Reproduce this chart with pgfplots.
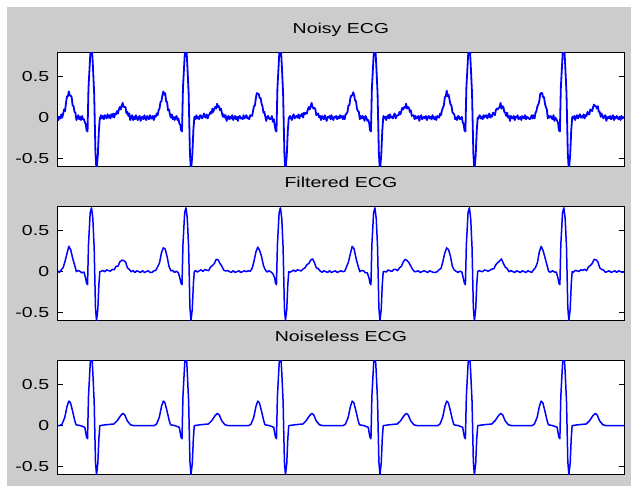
\documentclass[border=0pt]{standalone}
\usepackage{fontspec}
\setmainfont{Liberation Sans}[FakeStretch=1.35]
\usepackage{pgfplots}
\pgfplotsset{compat=1.18}
\definecolor{figgray}{RGB}{204,204,204}
\definecolor{ecgblue}{RGB}{0,0,255}
\pgfplotsset{ecg/.style={
  scale only axis, width=566.8bp, height=114.5bp,
  xmin=0, xmax=600, ymin=-0.6, ymax=0.8,
  xtick=\empty, ytick={-0.5,0,0.5}, yticklabels={-0.5,0,0.5},
  tick align=inside, ytick pos=both, yticklabel pos=left,
  major tick length=5bp,
  tick style={black, line width=0.8bp},
  axis line style={black, line width=0.9bp},
  axis background/.style={fill=white},
  yticklabel style={inner sep=0pt, anchor=east, xshift=-8.2bp, font=\fontsize{14.5}{17}\selectfont, text=black},
  title style={at={(0.5,1)}, anchor=base, yshift=13bp, inner sep=0pt, font=\fontsize{14.5}{17}\selectfont, text=black},
}, ecgline/.style={draw=ecgblue, line width=1.5bp, line join=round, line cap=round, no markers}}
\begin{document}
\begin{tikzpicture}[x=1bp,y=1bp]
\fill[white] (0,0) rectangle (631,486);
\fill[figgray] (7,0) rectangle (631,479);
% ---------------- Noisy ----------------
\begin{axis}[ecg, at={(57.5bp,319.3bp)}, anchor=south west, title={Noisy ECG}]
\addplot[ecgline, line width=1.8bp] coordinates {
(0,0.02)(1,-0.03)(2,0.01)(3,-0.01)(4,0.04)(5,0)(6,0.05)(7,0.1)(8,0.08)(9,0.18)(10,0.26)(11,0.26)(12,0.32)(13,0.27)(14,0.27)(15,0.25)(16,0.15)(17,0.14)(18,0.07)(19,0.06)(20,-0.03)(21,0)(22,0.03)(23,-0.02)(24,0.01)(25,-0.03)(26,0.02)(27,-0.02)(28,-0.02)(29,-0.06)(30,-0.08)
(30.7,-0.15)(31.8,-0.17)(32.8,0.36)(34.6,0.75)(36,0.95)(37.4,0.65)(38.8,0.3)(40.2,-0.44)(41.3,-0.65)(42.7,-0.46)(43.8,-0.16)(44.8,0)
(45,-0.02)(46,0.03)(47,-0.01)(48,0.02)(49,-0.02)(50,0.03)(51,0.01)(52,-0.01)(53,0.04)(54,0)(55,0.03)(56,-0.01)(57,0.04)(58,0.01)(59,0.05)(60,0)(61,0.05)(62,0.04)(63,0.08)(64,0.05)(65,0.1)(66,0.13)(67,0.1)(68,0.15)(69,0.18)(70,0.13)(71,0.13)(72,0.13)(73,0.05)(74,0.07)(75,0.02)(76,0.05)(77,-0.03)(78,0.01)(79,0.03)(80,-0.03)(81,0.01)(82,-0.02)(83,0.03)(84,-0.01)(85,-0.03)(86,0.01)(87,0.02)(88,-0.04)(89,0)(90,0.01)(91,-0.02)(92,0.03)(93,-0.01)(94,-0.03)(95,0.02)(96,0)(97,-0.02)(98,0.03)(99,-0.01)
(100,-0.01)(101,0.02)(102,-0.03)(103,0.02)(104,0.01)(105,0.05)(106,0.03)(107,0.09)(108,0.11)(109,0.19)(110,0.2)(111,0.27)(112,0.32)(113,0.28)(114,0.3)(115,0.2)(116,0.19)(117,0.09)(118,0.1)(119,0.04)(120,0)(121,0.04)(122,-0.02)(123,0.01)(124,-0.03)(125,0)(126,0.02)(127,-0.03)(128,-0.01)(129,-0.07)(130,-0.09)
(130.7,-0.15)(131.8,-0.17)(132.8,0.36)(134.6,0.75)(136,0.95)(137.4,0.65)(138.8,0.3)(140.2,-0.44)(141.3,-0.65)(142.7,-0.46)(143.8,-0.16)(144.8,0)
(145,0.01)(146,-0.02)(147,0.03)(148,-0.01)(149,0.01)(150,-0.02)(151,0.03)(152,0.02)(153,-0.01)(154,0.01)(155,0.05)(156,0.01)(157,0)(158,0.04)(159,-0.01)(160,0.03)(161,0.04)(162,0.07)(163,0.05)(164,0.11)(165,0.07)(166,0.11)(167,0.13)(168,0.11)(169,0.17)(170,0.13)(171,0.14)(172,0.09)(173,0.11)(174,0.06)(175,0.01)(176,0.04)(177,0)(178,0.03)(179,-0.04)(180,0)(181,0.02)(182,-0.02)(183,0.01)(184,-0.01)(185,0.03)(186,-0.03)(187,0)(188,0.02)(189,-0.02)(190,0.01)(191,-0.04)(192,0.01)(193,0.02)(194,-0.01)(195,0)(196,-0.02)(197,0.03)(198,-0.01)(199,0.01)
(200,0.03)(201,-0.01)(202,0)(203,-0.02)(204,0.03)(205,0.03)(206,0.02)(207,0.08)(208,0.14)(209,0.15)(210,0.24)(211,0.3)(212,0.29)(213,0.29)(214,0.24)(215,0.24)(216,0.17)(217,0.14)(218,0.06)(219,0.07)(220,0.01)(221,-0.04)(222,0.01)(223,0.02)(224,-0.01)(225,-0.02)(226,-0.01)(227,0.02)(228,-0.05)(229,-0.02)(230,-0.1)
(230.7,-0.15)(231.8,-0.17)(232.8,0.36)(234.6,0.75)(236,0.95)(237.4,0.65)(238.8,0.3)(240.2,-0.44)(241.3,-0.65)(242.7,-0.46)(243.8,-0.16)(244.8,0)
(245,-0.01)(246,0.02)(247,0)(248,-0.03)(249,0.02)(250,0.04)(251,-0.01)(252,0.01)(253,0.02)(254,0)(255,0.04)(256,-0.01)(257,0.03)(258,0.02)(259,0.05)(260,0)(261,0.06)(262,0.04)(263,0.06)(264,0.05)(265,0.1)(266,0.13)(267,0.1)(268,0.14)(269,0.18)(270,0.13)(271,0.11)(272,0.12)(273,0.1)(274,0.03)(275,0.04)(276,0.05)(277,0)(278,0.02)(279,-0.03)(280,0.02)(281,0)(282,-0.02)(283,0.03)(284,-0.01)(285,-0.04)(286,0.01)(287,0)(288,0.02)(289,-0.02)(290,0.03)(291,-0.01)(292,-0.03)(293,0.01)(294,0)(295,0.02)(296,-0.02)(297,0.01)(298,-0.01)(299,0.03)
(300,0)(301,0.02)(302,-0.02)(303,0.02)(304,-0.02)(305,0.04)(306,0.05)(307,0.07)(308,0.15)(309,0.15)(310,0.24)(311,0.27)(312,0.27)(313,0.31)(314,0.28)(315,0.21)(316,0.2)(317,0.11)(318,0.08)(319,0.07)(320,-0.02)(321,0.02)(322,-0.01)(323,0.02)(324,0)(325,-0.04)(326,0.02)(327,0)(328,-0.04)(329,-0.03)(330,-0.07)
(330.7,-0.15)(331.8,-0.17)(332.8,0.36)(334.6,0.75)(336,0.95)(337.4,0.65)(338.8,0.3)(340.2,-0.44)(341.3,-0.65)(342.7,-0.46)(343.8,-0.16)(344.8,0)
(345,0.02)(346,-0.01)(347,0.01)(348,-0.03)(349,0.01)(350,0.03)(351,-0.01)(352,0.04)(353,0)(354,0.01)(355,-0.01)(356,0.03)(357,0.05)(358,-0.01)(359,0.02)(360,0.03)(361,0.03)(362,0.07)(363,0.04)(364,0.08)(365,0.12)(366,0.1)(367,0.13)(368,0.12)(369,0.17)(370,0.11)(371,0.13)(372,0.12)(373,0.07)(374,0.09)(375,0.02)(376,0.03)(377,0.03)(378,-0.02)(379,0.02)(380,-0.01)(381,0)(382,0.02)(383,-0.04)(384,0.01)(385,0.03)(386,-0.02)(387,0)(388,0.01)(389,-0.01)(390,0.02)(391,-0.03)(392,0)(393,0.02)(394,-0.01)(395,0.01)(396,-0.02)(397,0.03)(398,0)(399,-0.02)
(400,0.01)(401,-0.03)(402,0.02)(403,0.01)(404,0)(405,0.05)(406,0.03)(407,0.09)(408,0.12)(409,0.15)(410,0.25)(411,0.26)(412,0.33)(413,0.26)(414,0.28)(415,0.22)(416,0.16)(417,0.15)(418,0.07)(419,0.05)(420,0.04)(421,-0.02)(422,0)(423,-0.03)(424,0.02)(425,0.01)(426,-0.02)(427,-0.01)(428,0.01)(429,-0.06)(430,-0.08)
(430.7,-0.15)(431.8,-0.17)(432.8,0.36)(434.6,0.75)(436,0.95)(437.4,0.65)(438.8,0.3)(440.2,-0.44)(441.3,-0.65)(442.7,-0.46)(443.8,-0.16)(444.8,0)
(445,-0.02)(446,0.01)(447,0.03)(448,-0.01)(449,0.01)(450,-0.02)(451,0.03)(452,0)(453,0.02)(454,0.03)(455,-0.01)(456,0.02)(457,0.05)(458,0)(459,0.03)(460,0.01)(461,0.06)(462,0.05)(463,0.03)(464,0.09)(465,0.11)(466,0.1)(467,0.12)(468,0.12)(469,0.18)(470,0.11)(471,0.14)(472,0.13)(473,0.07)(474,0.06)(475,0.02)(476,0.06)(477,0)(478,0.02)(479,-0.04)(480,0.02)(481,0)(482,-0.01)(483,0.02)(484,-0.03)(485,0.01)(486,0)(487,0.03)(488,-0.02)(489,-0.01)(490,0.01)(491,-0.03)(492,0.02)(493,0)(494,-0.01)(495,0.03)(496,-0.02)(497,0.01)(498,0)(499,-0.01)
(500,-0.02)(501,0)(502,0.03)(503,-0.01)(504,0.03)(505,-0.01)(506,0.06)(507,0.08)(508,0.14)(509,0.16)(510,0.2)(511,0.29)(512,0.3)(513,0.3)(514,0.25)(515,0.25)(516,0.17)(517,0.13)(518,0.1)(519,-0.01)(520,0.02)(521,0)(522,0.02)(523,0)(524,-0.02)(525,0.03)(526,-0.04)(527,0)(528,-0.02)(529,-0.04)(530,-0.07)
(530.7,-0.15)(531.8,-0.17)(532.8,0.36)(534.6,0.75)(536,0.95)(537.4,0.65)(538.8,0.3)(540.2,-0.44)(541.3,-0.65)(542.7,-0.46)(543.8,-0.16)(544.8,0)
(545,0.01)(546,-0.01)(547,0.02)(548,-0.03)(549,0.01)(550,0.03)(551,-0.01)(552,0.02)(553,0.04)(554,0)(555,0.02)(556,0)(557,0.04)(558,-0.01)(559,0.03)(560,0.02)(561,0.07)(562,0.04)(563,0.04)(564,0.1)(565,0.09)(566,0.08)(567,0.13)(568,0.16)(569,0.14)(570,0.14)(571,0.11)(572,0.14)(573,0.07)(574,0.07)(575,0.01)(576,0.05)(577,0.01)(578,-0.01)(579,0.02)(580,0.03)(581,-0.04)(582,0)(583,0.01)(584,-0.01)(585,0.02)(586,-0.02)(587,0)(588,0.03)(589,-0.03)(590,0.01)(591,-0.01)(592,0.02)(593,0)(594,-0.02)(595,0.01)(596,-0.03)(597,0.02)(598,-0.01)(599,0)(600,0.01)
};
\end{axis}
% ---------------- Filtered ----------------
\begin{axis}[ecg, at={(57.5bp,165.3bp)}, anchor=south west, title={Filtered ECG}]
\addplot[ecgline] coordinates {
(0,0.01)(2,-0.01)(4,0.023)(6,0.05)(8,0.127)(10,0.219)(12,0.31)(14,0.267)(16,0.165)(18,0.085)(20,0)(22,0.014)(24,0.001)(26,-0.015)(28,-0.005)(30,-0.09)
(30.7,-0.14)(31.8,-0.16)(32.8,0.33)(34.6,0.72)(36,0.78)(37.4,0.65)(38.8,0.3)(40.2,-0.44)(41.3,-0.6)(42.7,-0.46)(43.8,-0.16)(44.8,0)
(46,0.002)(48,0.015)(50,-0.001)(52,0.021)(54,0.013)(56,0.006)(58,0.028)(60,0.022)(62,0.066)(64,0.065)(66,0.119)(68,0.14)(70,0.135)(72,0.12)(74,0.046)(76,0.027)(78,-0.002)(80,0.012)(82,-0.01)(84,0.01)(86,0)(88,-0.01)(90,0.01)(92,-0.01)(94,0)(96,0.01)(98,-0.01)
(100,-0.01)(102,0.01)(104,0.013)(106,0.06)(108,0.107)(110,0.229)(112,0.29)(114,0.277)(116,0.185)(118,0.065)(120,0.01)(122,0.014)(124,-0.009)(126,0.005)(128,-0.015)(130,-0.1)
(130.7,-0.14)(131.8,-0.16)(132.8,0.33)(134.6,0.72)(136,0.78)(137.4,0.65)(138.8,0.3)(140.2,-0.44)(141.3,-0.6)(142.7,-0.46)(143.8,-0.16)(144.8,0)
(146,0.012)(148,-0.005)(150,0.009)(152,0.021)(154,0.003)(156,0.026)(158,0.018)(160,0.012)(162,0.056)(164,0.075)(166,0.099)(168,0.15)(170,0.145)(172,0.1)(174,0.066)(176,0.017)(178,0.008)(180,0.012)(182,0)(184,-0.01)(186,0.01)(188,-0.01)(190,0)(192,0.01)(194,-0.01)(196,0)(198,0.01)
(200,0)(202,0.01)(204,0.003)(206,0.04)(208,0.127)(210,0.239)(212,0.3)(214,0.257)(216,0.185)(218,0.075)(220,0.02)(222,-0.006)(224,0.011)(226,-0.005)(228,-0.025)(230,-0.08)
(230.7,-0.14)(231.8,-0.16)(232.8,0.33)(234.6,0.72)(236,0.78)(237.4,0.65)(238.8,0.3)(240.2,-0.44)(241.3,-0.6)(242.7,-0.46)(243.8,-0.16)(244.8,0)
(246,-0.008)(248,0.005)(250,0.019)(252,0.001)(254,0.023)(256,0.016)(258,0.008)(260,0.032)(262,0.046)(264,0.085)(266,0.099)(268,0.14)(270,0.155)(272,0.11)(274,0.046)(276,0.037)(278,0.008)(280,-0.008)(282,0.01)(284,0)(286,-0.01)(288,0.01)(290,-0.01)(292,0)(294,0.01)(296,-0.01)(298,0)
(300,0.01)(302,0)(304,0.003)(306,0.06)(308,0.117)(310,0.219)(312,0.31)(314,0.277)(316,0.165)(318,0.075)(320,0)(322,0.014)(324,0.011)(326,-0.015)(328,-0.015)(330,-0.09)
(330.7,-0.14)(331.8,-0.16)(332.8,0.33)(334.6,0.72)(336,0.78)(337.4,0.65)(338.8,0.3)(340.2,-0.44)(341.3,-0.6)(342.7,-0.46)(343.8,-0.16)(344.8,0)
(346,0.002)(348,-0.005)(350,0.019)(352,0.011)(354,0.003)(356,0.026)(358,0.028)(360,0.012)(362,0.046)(364,0.065)(366,0.119)(368,0.15)(370,0.135)(372,0.11)(374,0.066)(376,0.027)(378,-0.002)(380,0.002)(382,0.01)(384,-0.01)(386,0)(388,0.01)(390,0)(392,-0.01)(394,0.01)(396,0)(398,-0.01)
(400,-0.01)(402,0)(404,0.023)(406,0.04)(408,0.127)(410,0.229)(412,0.29)(414,0.267)(416,0.185)(418,0.065)(420,0.02)(422,0.004)(424,-0.009)(426,0.005)(428,-0.005)(430,-0.1)
(430.7,-0.14)(431.8,-0.16)(432.8,0.33)(434.6,0.72)(436,0.78)(437.4,0.65)(438.8,0.3)(440.2,-0.44)(441.3,-0.6)(442.7,-0.46)(443.8,-0.16)(444.8,0)
(446,0.012)(448,0.005)(450,-0.001)(452,0.021)(454,0.013)(456,0.006)(458,0.018)(460,0.032)(462,0.036)(464,0.085)(466,0.109)(468,0.13)(470,0.155)(472,0.1)(474,0.056)(476,0.037)(478,-0.002)(480,0.012)(482,0)(484,-0.01)(486,0.01)(488,0)(490,-0.01)(492,0.01)(494,0)(496,-0.01)(498,0.01)
(500,0)(502,-0.01)(504,0.023)(506,0.05)(508,0.107)(510,0.239)(512,0.31)(514,0.257)(516,0.175)(518,0.085)(520,0)(522,-0.006)(524,0.011)(526,-0.005)(528,-0.005)(530,-0.09)
(530.7,-0.14)(531.8,-0.16)(532.8,0.33)(534.6,0.72)(536,0.78)(537.4,0.65)(538.8,0.3)(540.2,-0.44)(541.3,-0.6)(542.7,-0.46)(543.8,-0.16)(544.8,0)
(546,-0.008)(548,0.015)(550,0.009)(552,0.001)(554,0.023)(556,0.016)(558,0.028)(560,0.012)(562,0.056)(564,0.075)(566,0.099)(568,0.15)(570,0.145)(572,0.12)(574,0.046)(576,0.027)(578,0.018)(580,-0.008)(582,0)(584,0.01)(586,-0.01)(588,0)(590,0.01)(592,-0.01)(594,0.01)(596,0)(598,-0.01)(600,0)
};
\end{axis}
% ---------------- Noiseless ----------------
\begin{axis}[ecg, at={(57.5bp,11.3bp)}, anchor=south west, title={Noiseless ECG}]
\addplot[ecgline] coordinates {
(0,0)(2.4,0)(4.9,0.02)(7.7,0.1)(10.2,0.24)(12,0.3)(13.7,0.28)(15.5,0.2)(18.3,0.06)(19.7,0.01)(24.3,0)(28.9,-0.02)(30.7,-0.14)(31.8,-0.16)(32.8,0.36)(34.6,0.75)(36,0.95)(37.4,0.65)(38.8,0.3)(40.2,-0.44)(41.3,-0.6)(42.7,-0.46)(43.8,-0.16)(44.8,0)(50.8,0.01)(59.7,0.02)(63.2,0.06)(66.7,0.12)(69.2,0.15)(71.3,0.13)(73.8,0.06)(77.3,0.01)(80.9,0)
(100,0)(102.4,0)(104.9,0.02)(107.7,0.1)(110.2,0.24)(112,0.3)(113.7,0.28)(115.5,0.2)(118.3,0.06)(119.7,0.01)(124.3,0)(128.9,-0.02)(130.7,-0.14)(131.8,-0.16)(132.8,0.36)(134.6,0.75)(136,0.95)(137.4,0.65)(138.8,0.3)(140.2,-0.44)(141.3,-0.6)(142.7,-0.46)(143.8,-0.16)(144.8,0)(150.8,0.01)(159.7,0.02)(163.2,0.06)(166.7,0.12)(169.2,0.15)(171.3,0.13)(173.8,0.06)(177.3,0.01)(180.9,0)
(200,0)(202.4,0)(204.9,0.02)(207.7,0.1)(210.2,0.24)(212,0.3)(213.7,0.28)(215.5,0.2)(218.3,0.06)(219.7,0.01)(224.3,0)(228.9,-0.02)(230.7,-0.14)(231.8,-0.16)(232.8,0.36)(234.6,0.75)(236,0.95)(237.4,0.65)(238.8,0.3)(240.2,-0.44)(241.3,-0.6)(242.7,-0.46)(243.8,-0.16)(244.8,0)(250.8,0.01)(259.7,0.02)(263.2,0.06)(266.7,0.12)(269.2,0.15)(271.3,0.13)(273.8,0.06)(277.3,0.01)(280.9,0)
(300,0)(302.4,0)(304.9,0.02)(307.7,0.1)(310.2,0.24)(312,0.3)(313.7,0.28)(315.5,0.2)(318.3,0.06)(319.7,0.01)(324.3,0)(328.9,-0.02)(330.7,-0.14)(331.8,-0.16)(332.8,0.36)(334.6,0.75)(336,0.95)(337.4,0.65)(338.8,0.3)(340.2,-0.44)(341.3,-0.6)(342.7,-0.46)(343.8,-0.16)(344.8,0)(350.8,0.01)(359.7,0.02)(363.2,0.06)(366.7,0.12)(369.2,0.15)(371.3,0.13)(373.8,0.06)(377.3,0.01)(380.9,0)
(400,0)(402.4,0)(404.9,0.02)(407.7,0.1)(410.2,0.24)(412,0.3)(413.7,0.28)(415.5,0.2)(418.3,0.06)(419.7,0.01)(424.3,0)(428.9,-0.02)(430.7,-0.14)(431.8,-0.16)(432.8,0.36)(434.6,0.75)(436,0.95)(437.4,0.65)(438.8,0.3)(440.2,-0.44)(441.3,-0.6)(442.7,-0.46)(443.8,-0.16)(444.8,0)(450.8,0.01)(459.7,0.02)(463.2,0.06)(466.7,0.12)(469.2,0.15)(471.3,0.13)(473.8,0.06)(477.3,0.01)(480.9,0)
(500,0)(502.4,0)(504.9,0.02)(507.7,0.1)(510.2,0.24)(512,0.3)(513.7,0.28)(515.5,0.2)(518.3,0.06)(519.7,0.01)(524.3,0)(528.9,-0.02)(530.7,-0.14)(531.8,-0.16)(532.8,0.36)(534.6,0.75)(536,0.95)(537.4,0.65)(538.8,0.3)(540.2,-0.44)(541.3,-0.6)(542.7,-0.46)(543.8,-0.16)(544.8,0)(550.8,0.01)(559.7,0.02)(563.2,0.06)(566.7,0.12)(569.2,0.15)(571.3,0.13)(573.8,0.06)(577.3,0.01)(580.9,0)
(600,0)
};
\end{axis}
\end{tikzpicture}
\end{document}
